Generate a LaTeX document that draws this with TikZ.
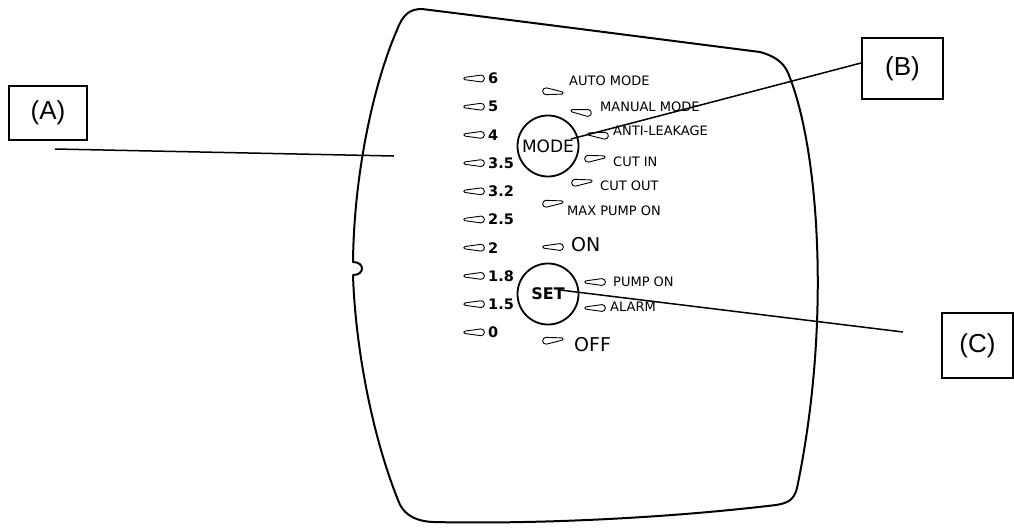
\documentclass[tikz,border=0pt]{standalone}
\usepackage{fontspec}
\setmainfont{Liberation Sans}
\newfontfamily\panelfont{DejaVu Sans}

\tikzset{
  callout/.style={draw,line width=2pt,inner sep=0pt,font=\fontsize{26}{28}\selectfont},
  leader/.style={line width=1.5pt},
  knob/.style={draw,circle,line width=1.8pt,minimum size=61pt,inner sep=0pt},
  lbl/.style={anchor=west,inner sep=0pt,font=\panelfont\fontsize{13}{15}\selectfont},
  biglbl/.style={anchor=west,inner sep=0pt,font=\panelfont\fontsize{19}{21}\selectfont},
  numlbl/.style={anchor=west,inner sep=0pt,font=\panelfont\bfseries\fontsize{14.5}{17}\selectfont},
  led/.pic={\draw[line width=0.9pt,line join=round] (-9,-1.2) -- (7,-3.4) arc[start angle=-90,end angle=90,radius=3.4] -- (-9,1.2) arc[start angle=90,end angle=270,radius=1.2] -- cycle;}
}

\begin{document}
\begin{tikzpicture}[x=1pt,y=-1pt]
    \useasboundingbox (0,0) rectangle (1014,531);
    \draw[line width=2pt,line join=round] (397,30) .. controls (403,14) and (410,9) .. (422,9)
      .. controls (535,23) and (650,38) .. (760,52)
      .. controls (778,57) and (786,65) .. (790,78)
      .. controls (818,150) and (832,320) .. (797,488)
      .. controls (794,500) and (788,503) .. (776,505)
      .. controls (650,520) and (520,524) .. (433,522)
      .. controls (412,521) and (402,512) .. (398,500)
      .. controls (370,430) and (355,340) .. (353,275)
      .. controls (365,275) and (365,262) .. (353,262)
      .. controls (354,170) and (375,80) .. (397,30) -- cycle;
    \foreach \v [count=\i] in {6,5,4,3.5,3.2,2.5,2,1.8,1.5,0}{
      \pic at (474,{50.3+28.2*\i}) {led};
      \node[numlbl] (bar\i) at (488,{50.3+28.2*\i}) {\v};
    }
    \foreach \ix/\iy/\rot/\fl/\tx/\ty/\txt [count=\k] in {
      553/92/-6/-1/569/81/AUTO MODE,
      581/112/-8/1/600/107/MANUAL MODE,
      598/135/-6/1/613/131/ANTI-LEAKAGE,
      595/158/6/-1/613/162/CUT IN,
      582/182/6/-1/600/186/CUT OUT,
      553/203/6/-1/567/211/MAX PUMP ON,
      595/282/0/1/613/282/PUMP ON,
      595/308/0/1/610/307/ALARM}{
      \pic[rotate=\rot,xscale=\fl] at (\ix,\iy) {led};
      \node[lbl] (st\k) at (\tx,\ty) {\txt};
    }
    \pic at (553,247) {led};
    \node[biglbl] (on) at (571,245) {ON};
    \pic[rotate=6,xscale=-1] at (553,340) {led};
    \node[biglbl] (off) at (574,345) {OFF};
    \node[knob,font=\panelfont\fontsize{17}{19}\selectfont] (mode) at (548,146) {MODE};
    \node[knob,font=\panelfont\bfseries\fontsize{16}{18}\selectfont] (set) at (548,294) {SET};
    \node[callout,minimum width=78pt,minimum height=54pt] (boxA) at (48,113) {(A)};
    \node[callout,minimum width=81pt,minimum height=61pt] (boxB) at (902.5,68.5) {(B)};
    \node[callout,minimum width=71pt,minimum height=65pt] (boxC) at (977.5,345.5) {(C)};
    \coordinate (aTail) at (55,149);
    \coordinate (aTip) at (394,156);
    \coordinate (bTip) at (571,139);
    \coordinate (cTip) at (560,290);
    \coordinate (cTail) at (903,332);
    \draw[leader] (aTail) -- (aTip);
    \draw[leader] ([yshift=5.5pt]boxB.west) -- (bTip);
    \draw[leader] (cTip) -- (cTail);
  \end{tikzpicture}
\end{document}
